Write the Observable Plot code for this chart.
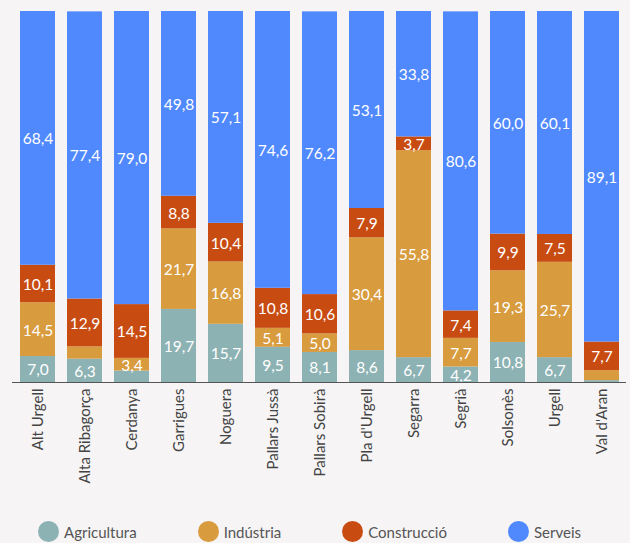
<!DOCTYPE html>
<html>
<head>
<meta charset="utf-8">
<script src="https://cdn.jsdelivr.net/npm/d3@7"></script>
<script src="https://cdn.jsdelivr.net/npm/@observablehq/plot@0.6"></script>
<style>
  html, body { margin: 0; padding: 0; background: #f6f4f5; }
  body { width: 630px; height: 543px; overflow: hidden; font-family: Lato, "Open Sans", sans-serif; }
  #legend { display: flex; justify-content: flex-start; align-items: center; padding-top: 16px; padding-left: 38px; }
  .item { display: flex; align-items: center; margin-right: 61px; font-size: 15px; color: #555; }
  .item:last-child { margin-right: 0; }
  .dot { width: 21px; height: 21px; border-radius: 50%; margin-right: 5px; }
</style>
</head>
<body>
<div id="chart"></div>
<div id="legend"></div>
<script>
const comarques = ["Alt Urgell", "Alta Ribagorça", "Cerdanya", "Garrigues", "Noguera", "Pallars Jussà", "Pallars Sobirà", "Pla d'Urgell", "Segarra", "Segrià", "Solsonès", "Urgell", "Val d'Aran"];
const agricultura = [7.0, 6.3, 3.1, 19.7, 15.7, 9.5, 8.1, 8.6, 6.7, 4.2, 10.8, 6.7, 0.5];
const industria   = [14.5, 3.3, 3.4, 21.7, 16.8, 5.1, 5.0, 30.4, 55.8, 7.7, 19.3, 25.7, 2.7];
const construccio = [10.1, 12.9, 14.5, 8.8, 10.4, 10.8, 10.6, 7.9, 3.7, 7.4, 9.9, 7.5, 7.7];
const serveis     = [68.4, 77.4, 79.0, 49.8, 57.1, 74.6, 76.2, 53.1, 33.8, 80.6, 60.0, 60.1, 89.1];
const sectors = ["Agricultura", "Indústria", "Construcció", "Serveis"];
const colors = ["#8db2b4", "#d89b3e", "#c84c12", "#5089fe"];

const series = [agricultura, industria, construccio, serveis];
const data = [];
comarques.forEach((c, i) => {
  sectors.forEach((s, j) => data.push({comarca: c, sector: s, value: series[j][i]}));
});
const fmt = v => v.toFixed(1).replace(".", ",");

const chart = Plot.plot({
  width: 630,
  height: 505,
  marginTop: 11,
  marginBottom: 123,
  marginLeft: 12,
  marginRight: 4,
  style: {background: "transparent", fontFamily: "Lato, 'Open Sans', sans-serif"},
  x: {domain: comarques, padding: 0.26, paddingOuter: 0.1, label: null, tickSize: 0, tickPadding: 6, tickRotate: -90},
  y: {domain: [0, 100], axis: null},
  color: {domain: sectors, range: colors},
  marks: [
    Plot.barY(data, Plot.stackY({x: "comarca", y: "value", z: "sector", fill: "sector", order: sectors})),
    Plot.text(data, Plot.stackY({x: "comarca", y: "value", z: "sector", order: sectors, text: d => d.value > 3.35 ? fmt(d.value) : "", fill: "white", fontSize: 15.5, dy: 1})),
    Plot.ruleY([0], {stroke: "#555", strokeWidth: 1.2})
  ]
});
chart.querySelectorAll('g[aria-label="x-axis tick label"] text').forEach(t => {
  t.style.fontSize = "15px";
  t.style.fill = "#444";
});
document.getElementById("chart").appendChild(chart);

const legend = document.getElementById("legend");
sectors.forEach((s, i) => {
  const item = document.createElement("div");
  item.className = "item";
  const dot = document.createElement("div");
  dot.className = "dot";
  dot.style.background = colors[i];
  const label = document.createElement("span");
  label.textContent = s;
  item.appendChild(dot);
  item.appendChild(label);
  legend.appendChild(item);
});
</script>
</body>
</html>
